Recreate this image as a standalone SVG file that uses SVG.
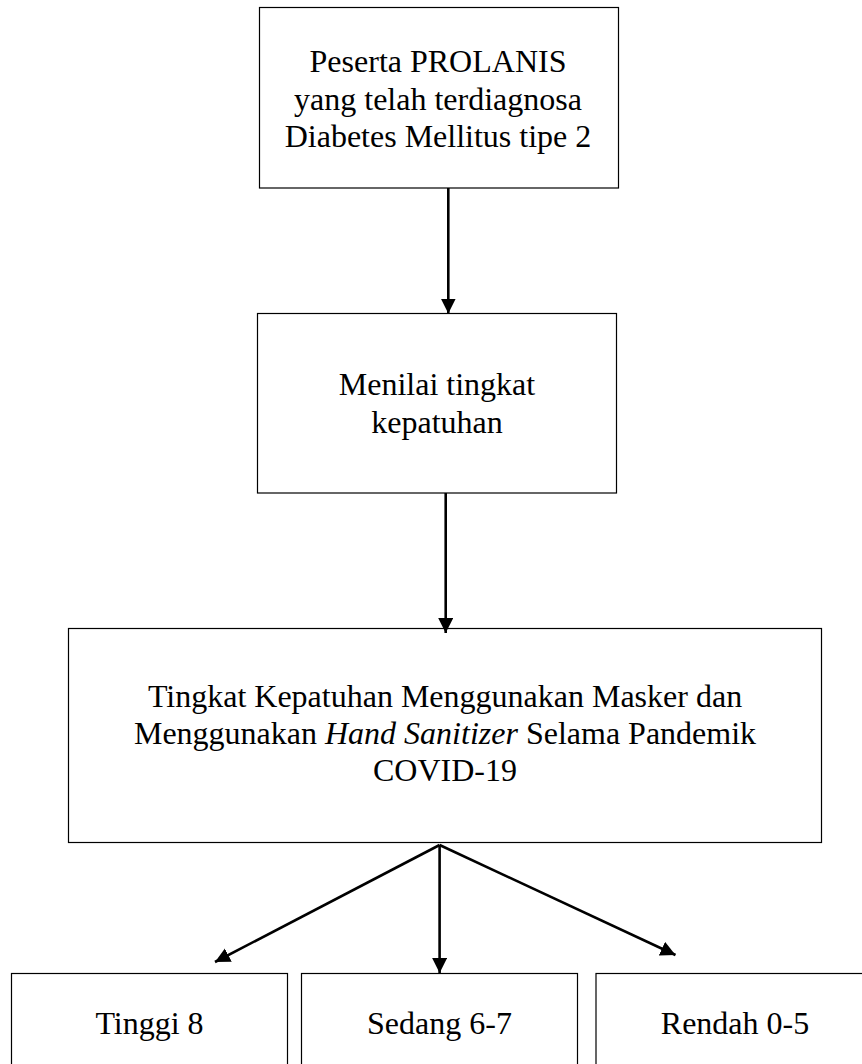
<svg xmlns="http://www.w3.org/2000/svg" width="862" height="1064" viewBox="0 0 862 1064">
<style>
.box{fill:#fff;stroke:#000;stroke-width:1.2}
.t{font-family:"Liberation Serif","Times New Roman",serif;font-size:32px;fill:#000;text-anchor:middle}
.c{stroke:#000;stroke-width:2.6;fill:none;marker-end:url(#ah)}
</style>
<defs>
<marker id="ah" markerUnits="userSpaceOnUse" markerWidth="16" markerHeight="16" viewBox="0 0 16 16" refX="15" refY="7.5" orient="auto">
<path d="M0,0 L15,7.5 L0,15 z" fill="#000"/>
</marker>
</defs>
<rect width="862" height="1064" fill="#fff"/>
<g id="n1">
<rect class="box" x="259.5" y="7.5" width="359" height="180.5"/>
<text class="t" x="438" y="72">Peserta PROLANIS</text>
<text class="t" x="438" y="110">yang telah terdiagnosa</text>
<text class="t" x="438" y="147">Diabetes Mellitus tipe 2</text>
</g>
<g id="n2">
<rect class="box" x="257.5" y="313.5" width="359" height="179.5"/>
<text class="t" x="437" y="395">Menilai tingkat</text>
<text class="t" x="437" y="433">kepatuhan</text>
</g>
<g id="n3">
<rect class="box" x="68.5" y="628.5" width="753" height="214"/>
<text class="t" x="445" y="707">Tingkat Kepatuhan Menggunakan Masker dan</text>
<text class="t" x="445" y="744">Menggunakan <tspan font-style="italic">Hand Sanitizer</tspan> Selama Pandemik</text>
<text class="t" x="445" y="781">COVID-19</text>
</g>
<g id="n4">
<rect class="box" x="11.5" y="973.5" width="276" height="100"/>
<text class="t" x="149.5" y="1034">Tinggi 8</text>
</g>
<g id="n5">
<rect class="box" x="301.5" y="973.5" width="276" height="100"/>
<text class="t" x="439.5" y="1034">Sedang 6-7</text>
</g>
<g id="n6">
<rect class="box" x="596" y="973.5" width="277" height="100"/>
<text class="t" x="735" y="1034">Rendah 0-5</text>
</g>
<g id="connectors">
<line class="c" x1="448.3" y1="188" x2="448.3" y2="313.5"/>
<line class="c" x1="445.7" y1="493" x2="445.7" y2="633"/>
<line class="c" x1="439.6" y1="845" x2="439.6" y2="973"/>
<line class="c" x1="439.6" y1="845" x2="215" y2="962"/>
<line class="c" x1="439.6" y1="845" x2="675.5" y2="955"/>
</g>
</svg>
